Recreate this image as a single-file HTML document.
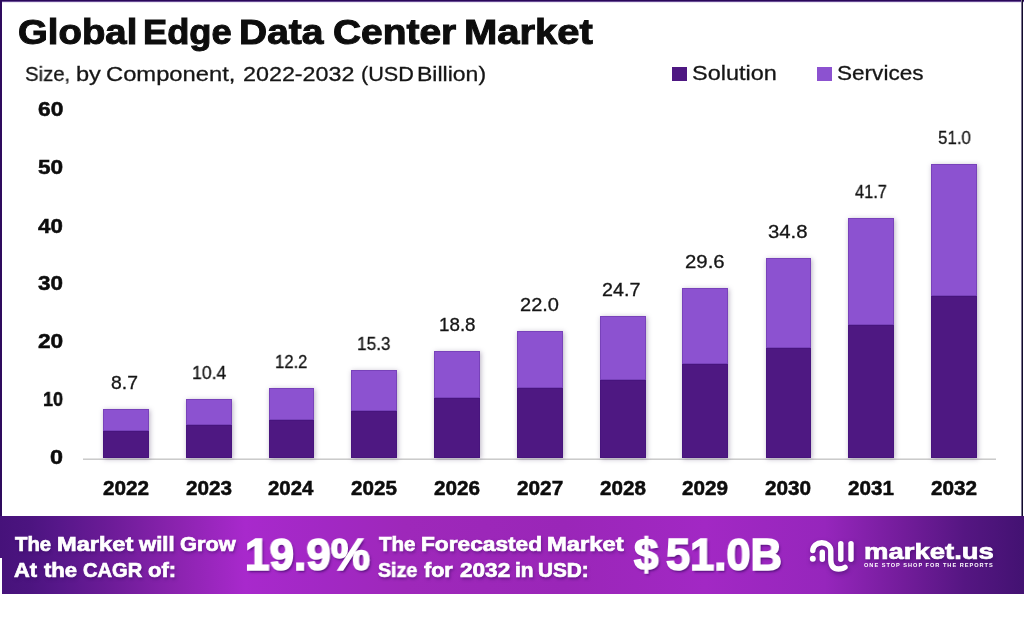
<!DOCTYPE html>
<html><head><meta charset="utf-8"><title>Global Edge Data Center Market</title>
<style>
html,body{margin:0;padding:0;}
body{width:1024px;height:621px;position:relative;overflow:hidden;background:#fff;font-family:"Liberation Sans",sans-serif;}
.t{position:absolute;white-space:nowrap;line-height:1;will-change:transform;}
.b{position:absolute;}
.sol{background:#4e1882;}
.ser{background:#8c52d0;}
.bar{position:absolute;box-shadow:1px 1px 5px rgba(60,40,90,.36);}
.bar .b{box-shadow:inset 0 0 0 1px rgba(50,10,110,.22);}
.w{color:#fff;font-weight:700;text-shadow:1px 2px 3px rgba(50,10,90,.55);}
.hv{-webkit-text-stroke:0.5px #0d0d0d;}
.rg{-webkit-text-stroke:0.3px #161616;}
.hv2{-webkit-text-stroke:1px #0d0d0d;}
.hw{-webkit-text-stroke:0.7px #fff;}
.hw2{-webkit-text-stroke:1.7px #fff;text-shadow:1.5px 2px 2.5px rgba(55,8,95,.75);}
</style></head><body>

<div class="b" style="left:0;top:0;width:1024px;height:1px;background:#2a085a"></div>
<div class="b" style="left:0;top:1px;width:1024px;height:1px;background:#664a93"></div>
<div class="b" style="left:0;top:2px;width:1024px;height:1px;background:#ece7f3"></div>
<div class="b" style="left:0;top:0;width:2px;height:558px;background:#2e0a5e"></div>
<div class="b" style="left:1021px;top:0;width:1px;height:518px;background:#7a7390"></div>
<div class="b" style="left:1022px;top:0;width:1px;height:518px;background:#120a2c"></div>
<div class="t hv2" style="left:17.97px;top:15.00px;font-size:34.3px;font-weight:700;color:#0d0d0d;transform:scaleX(1.1185);transform-origin:0 50%;">Global</div>
<div class="t hv2" style="left:142.65px;top:15.00px;font-size:34.3px;font-weight:700;color:#0d0d0d;transform:scaleX(1.0579);transform-origin:0 50%;">Edge</div>
<div class="t hv2" style="left:238.87px;top:15.00px;font-size:34.3px;font-weight:700;color:#0d0d0d;transform:scaleX(1.1357);transform-origin:0 50%;">Data</div>
<div class="t hv2" style="left:332.94px;top:15.00px;font-size:34.3px;font-weight:700;color:#0d0d0d;transform:scaleX(1.1343);transform-origin:0 50%;">Center</div>
<div class="t hv2" style="left:463.80px;top:15.00px;font-size:34.3px;font-weight:700;color:#0d0d0d;transform:scaleX(1.1653);transform-origin:0 50%;">Market</div>
<div class="t rg" style="left:25.24px;top:63.42px;font-size:21px;font-weight:400;color:#161616;transform:scaleX(0.9672);transform-origin:0 50%;">Size,</div>
<div class="t rg" style="left:75.92px;top:63.42px;font-size:21px;font-weight:400;color:#161616;transform:scaleX(1.1236);transform-origin:0 50%;">by</div>
<div class="t rg" style="left:106.26px;top:63.42px;font-size:21px;font-weight:400;color:#161616;transform:scaleX(1.1312);transform-origin:0 50%;">Component,</div>
<div class="t rg" style="left:242.88px;top:63.42px;font-size:21px;font-weight:400;color:#161616;transform:scaleX(1.1098);transform-origin:0 50%;">2022-2032</div>
<div class="t rg" style="left:360.80px;top:63.42px;font-size:21px;font-weight:400;color:#161616;transform:scaleX(1.0299);transform-origin:0 50%;">(USD</div>
<div class="t rg" style="left:417.35px;top:63.42px;font-size:21px;font-weight:400;color:#161616;transform:scaleX(1.0958);transform-origin:0 50%;">Billion)</div>
<div class="b sol" style="left:672px;top:67px;width:15px;height:14px"></div>
<div class="t rg" style="left:692.09px;top:62.69px;font-size:20.8px;font-weight:400;color:#161616;transform:scaleX(1.1277);transform-origin:0 50%;">Solution</div>
<div class="b ser" style="left:817px;top:67px;width:15px;height:14px"></div>
<div class="t rg" style="left:837.13px;top:62.69px;font-size:20.8px;font-weight:400;color:#161616;transform:scaleX(1.0852);transform-origin:0 50%;">Services</div>
<div class="t hv" style="left:37.90px;top:100.00px;font-size:19.7px;font-weight:700;color:#0d0d0d;transform:scaleX(1.1553);transform-origin:0 50%;">60</div>
<div class="t hv" style="left:38.07px;top:158.00px;font-size:19.7px;font-weight:700;color:#0d0d0d;transform:scaleX(1.1470);transform-origin:0 50%;">50</div>
<div class="t hv" style="left:38.42px;top:217.00px;font-size:19.7px;font-weight:700;color:#0d0d0d;transform:scaleX(1.1307);transform-origin:0 50%;">40</div>
<div class="t hv" style="left:38.25px;top:274.00px;font-size:19.7px;font-weight:700;color:#0d0d0d;transform:scaleX(1.1388);transform-origin:0 50%;">30</div>
<div class="t hv" style="left:37.96px;top:332.00px;font-size:19.7px;font-weight:700;color:#0d0d0d;transform:scaleX(1.1526);transform-origin:0 50%;">20</div>
<div class="t hv" style="left:43.03px;top:390.00px;font-size:19.7px;font-weight:700;color:#0d0d0d;transform:scaleX(0.9119);transform-origin:0 50%;">10</div>
<div class="t hv" style="left:50.22px;top:448.00px;font-size:19.7px;font-weight:700;color:#0d0d0d;transform:scaleX(1.1862);transform-origin:0 50%;">0</div>
<div class="b" style="left:83px;top:458px;width:913px;height:1px;background:#e2e2e2"></div>
<div class="b" style="left:83px;top:459px;width:913px;height:1px;background:#cbcbcb"></div>
<div class="bar" style="left:103.0px;top:408.7px;width:46.0px;height:49.3px"><div class="b ser" style="left:0;top:0;width:100%;height:22.7px"></div><div class="b sol" style="left:0;top:22.7px;width:100%;height:26.6px"></div></div>
<div class="t rg" style="left:111.23px;top:373.79px;font-size:18.8px;font-weight:400;color:#161616;transform:scaleX(1.0310);transform-origin:0 50%;">8.7</div>
<div class="t hv" style="left:103.02px;top:478.72px;font-size:19.7px;font-weight:700;color:#0d0d0d;transform:scaleX(1.0531);transform-origin:0 50%;">2022</div>
<div class="bar" style="left:185.6px;top:398.9px;width:46.0px;height:59.1px"><div class="b ser" style="left:0;top:0;width:100%;height:26.3px"></div><div class="b sol" style="left:0;top:26.3px;width:100%;height:32.8px"></div></div>
<div class="t rg" style="left:191.83px;top:363.99px;font-size:18.8px;font-weight:400;color:#161616;transform:scaleX(0.9395);transform-origin:0 50%;">10.4</div>
<div class="t hv" style="left:185.63px;top:478.72px;font-size:19.7px;font-weight:700;color:#0d0d0d;transform:scaleX(1.0506);transform-origin:0 50%;">2023</div>
<div class="bar" style="left:268.5px;top:388.4px;width:45.5px;height:69.6px"><div class="b ser" style="left:0;top:0;width:100%;height:31.2px"></div><div class="b sol" style="left:0;top:31.2px;width:100%;height:38.4px"></div></div>
<div class="t rg" style="left:275.30px;top:353.49px;font-size:18.8px;font-weight:400;color:#161616;transform:scaleX(0.8868);transform-origin:0 50%;">12.2</div>
<div class="t hv" style="left:268.29px;top:478.72px;font-size:19.7px;font-weight:700;color:#0d0d0d;transform:scaleX(1.0362);transform-origin:0 50%;">2024</div>
<div class="bar" style="left:351.0px;top:370.1px;width:46.4px;height:87.9px"><div class="b ser" style="left:0;top:0;width:100%;height:40.5px"></div><div class="b sol" style="left:0;top:40.5px;width:100%;height:47.4px"></div></div>
<div class="t rg" style="left:357.06px;top:335.19px;font-size:18.8px;font-weight:400;color:#161616;transform:scaleX(0.9181);transform-origin:0 50%;">15.3</div>
<div class="t hv" style="left:351.23px;top:478.72px;font-size:19.7px;font-weight:700;color:#0d0d0d;transform:scaleX(1.0470);transform-origin:0 50%;">2025</div>
<div class="bar" style="left:433.6px;top:350.6px;width:46.4px;height:107.4px"><div class="b ser" style="left:0;top:0;width:100%;height:47.9px"></div><div class="b sol" style="left:0;top:47.9px;width:100%;height:59.5px"></div></div>
<div class="t rg" style="left:438.56px;top:315.69px;font-size:18.8px;font-weight:400;color:#161616;transform:scaleX(0.9881);transform-origin:0 50%;">18.8</div>
<div class="t hv" style="left:433.83px;top:478.72px;font-size:19.7px;font-weight:700;color:#0d0d0d;transform:scaleX(1.0506);transform-origin:0 50%;">2026</div>
<div class="bar" style="left:517.0px;top:331.2px;width:45.6px;height:126.8px"><div class="b ser" style="left:0;top:0;width:100%;height:57.2px"></div><div class="b sol" style="left:0;top:57.2px;width:100%;height:69.6px"></div></div>
<div class="t rg" style="left:520.05px;top:296.29px;font-size:18.8px;font-weight:400;color:#161616;transform:scaleX(1.0667);transform-origin:0 50%;">22.0</div>
<div class="t hv" style="left:516.82px;top:478.72px;font-size:19.7px;font-weight:700;color:#0d0d0d;transform:scaleX(1.0543);transform-origin:0 50%;">2027</div>
<div class="bar" style="left:600.0px;top:316.2px;width:45.7px;height:141.8px"><div class="b ser" style="left:0;top:0;width:100%;height:63.7px"></div><div class="b sol" style="left:0;top:63.7px;width:100%;height:78.1px"></div></div>
<div class="t rg" style="left:602.36px;top:281.29px;font-size:18.8px;font-weight:400;color:#161616;transform:scaleX(1.0508);transform-origin:0 50%;">24.7</div>
<div class="t hv" style="left:599.88px;top:478.72px;font-size:19.7px;font-weight:700;color:#0d0d0d;transform:scaleX(1.0482);transform-origin:0 50%;">2028</div>
<div class="bar" style="left:682.4px;top:287.6px;width:45.6px;height:170.4px"><div class="b ser" style="left:0;top:0;width:100%;height:76.5px"></div><div class="b sol" style="left:0;top:76.5px;width:100%;height:93.9px"></div></div>
<div class="t rg" style="left:685.13px;top:252.69px;font-size:18.8px;font-weight:400;color:#161616;transform:scaleX(1.0840);transform-origin:0 50%;">29.6</div>
<div class="t hv" style="left:682.23px;top:478.72px;font-size:19.7px;font-weight:700;color:#0d0d0d;transform:scaleX(1.0506);transform-origin:0 50%;">2029</div>
<div class="bar" style="left:765.5px;top:257.8px;width:45.3px;height:200.2px"><div class="b ser" style="left:0;top:0;width:100%;height:90.1px"></div><div class="b sol" style="left:0;top:90.1px;width:100%;height:110.1px"></div></div>
<div class="t rg" style="left:767.99px;top:222.89px;font-size:18.8px;font-weight:400;color:#161616;transform:scaleX(1.0824);transform-origin:0 50%;">34.8</div>
<div class="t hv" style="left:765.17px;top:478.72px;font-size:19.7px;font-weight:700;color:#0d0d0d;transform:scaleX(1.0531);transform-origin:0 50%;">2030</div>
<div class="bar" style="left:847.6px;top:217.8px;width:46.4px;height:240.2px"><div class="b ser" style="left:0;top:0;width:100%;height:107.3px"></div><div class="b sol" style="left:0;top:107.3px;width:100%;height:132.9px"></div></div>
<div class="t rg" style="left:854.58px;top:182.89px;font-size:18.8px;font-weight:400;color:#161616;transform:scaleX(0.8733);transform-origin:0 50%;">41.7</div>
<div class="t hv" style="left:847.83px;top:478.72px;font-size:19.7px;font-weight:700;color:#0d0d0d;transform:scaleX(1.0470);transform-origin:0 50%;">2031</div>
<div class="bar" style="left:931.2px;top:163.5px;width:45.6px;height:294.5px"><div class="b ser" style="left:0;top:0;width:100%;height:132.6px"></div><div class="b sol" style="left:0;top:132.6px;width:100%;height:161.9px"></div></div>
<div class="t rg" style="left:937.57px;top:128.59px;font-size:18.8px;font-weight:400;color:#161616;transform:scaleX(0.9013);transform-origin:0 50%;">51.0</div>
<div class="t hv" style="left:931.02px;top:478.72px;font-size:19.7px;font-weight:700;color:#0d0d0d;transform:scaleX(1.0531);transform-origin:0 50%;">2032</div>
<div class="b" style="left:0;top:516px;width:1024px;height:78px;background:linear-gradient(90deg,#46127a 0px,#4c1480 30px,#57178a 60px,#6a1b96 105px,#8a23ae 175px,#a829cc 245px,#a228c4 325px,#9e28ba 405px,#9a26b8 565px,#a228c4 705px,#9626bc 825px,#721c9a 905px,#551682 965px,#431272 1024px)"></div>
<div class="b" style="left:0;top:558px;width:2px;height:36px;background:#fff"></div>
<div class="t w hw" style="left:14.95px;top:534.00px;font-size:20px;font-weight:700;color:#fff;transform:scaleX(1.0159);transform-origin:0 50%;">The</div>
<div class="t w hw" style="left:57.15px;top:534.00px;font-size:20px;font-weight:700;color:#fff;transform:scaleX(1.1831);transform-origin:0 50%;">Market</div>
<div class="t w hw" style="left:139.41px;top:534.00px;font-size:20px;font-weight:700;color:#fff;transform:scaleX(1.1021);transform-origin:0 50%;">will</div>
<div class="t w hw" style="left:179.78px;top:534.00px;font-size:20px;font-weight:700;color:#fff;transform:scaleX(1.0884);transform-origin:0 50%;">Grow</div>
<div class="t w hw" style="left:14.20px;top:560.00px;font-size:20px;font-weight:700;color:#fff;transform:scaleX(1.0909);transform-origin:0 50%;">At</div>
<div class="t w hw" style="left:43.77px;top:560.00px;font-size:20px;font-weight:700;color:#fff;transform:scaleX(1.1050);transform-origin:0 50%;">the</div>
<div class="t w hw" style="left:83.05px;top:560.00px;font-size:20px;font-weight:700;color:#fff;transform:scaleX(1.0043);transform-origin:0 50%;">CAGR</div>
<div class="t w hw" style="left:147.87px;top:560.00px;font-size:20px;font-weight:700;color:#fff;transform:scaleX(1.1009);transform-origin:0 50%;">of:</div>
<div class="t w hw2" style="left:244.59px;top:532.00px;font-size:45px;font-weight:700;color:#fff;transform:scaleX(0.9805);transform-origin:0 50%;">19.9%</div>
<div class="t w hw" style="left:379.04px;top:534.00px;font-size:20px;font-weight:700;color:#fff;transform:scaleX(1.0274);transform-origin:0 50%;">The</div>
<div class="t w hw" style="left:420.82px;top:534.00px;font-size:20px;font-weight:700;color:#fff;transform:scaleX(1.1347);transform-origin:0 50%;">Forecasted</div>
<div class="t w hw" style="left:546.54px;top:534.00px;font-size:20px;font-weight:700;color:#fff;transform:scaleX(1.1895);transform-origin:0 50%;">Market</div>
<div class="t w hw" style="left:378.16px;top:560.00px;font-size:20px;font-weight:700;color:#fff;transform:scaleX(0.9781);transform-origin:0 50%;">Size</div>
<div class="t w hw" style="left:423.77px;top:560.00px;font-size:20px;font-weight:700;color:#fff;transform:scaleX(1.0769);transform-origin:0 50%;">for</div>
<div class="t w hw" style="left:459.66px;top:560.00px;font-size:20px;font-weight:700;color:#fff;transform:scaleX(1.1282);transform-origin:0 50%;">2032</div>
<div class="t w hw" style="left:514.89px;top:560.00px;font-size:20px;font-weight:700;color:#fff;transform:scaleX(1.0429);transform-origin:0 50%;">in</div>
<div class="t w hw" style="left:538.01px;top:560.00px;font-size:20px;font-weight:700;color:#fff;transform:scaleX(1.0371);transform-origin:0 50%;">USD:</div>
<div class="t w hw2" style="left:634.30px;top:532.00px;font-size:45px;font-weight:700;color:#fff;transform:scaleX(0.9769);transform-origin:0 50%;">$</div>
<div class="t w hw2" style="left:665.55px;top:532.00px;font-size:45px;font-weight:700;color:#fff;transform:scaleX(0.9661);transform-origin:0 50%;">51.0B</div>
<svg class="b" style="left:800px;top:530px;filter:drop-shadow(1px 2px 2px rgba(50,10,90,.5))" width="70" height="50" viewBox="800 530 70 50">
<g fill="none" stroke="#fff" stroke-width="5.4" stroke-linecap="round" stroke-linejoin="round">
<path d="M812.8 550.6 A9 7.9 0 0 1 830.8 550.6 L830.8 560 Q831 569 838.6 569 Q843 569 845 567.3"/>
<path d="M822.3 552.3 L822.3 559.3"/>
<path d="M840.8 543.6 L840.8 559.3"/>
<path d="M851 543.6 L851 559.3"/>
</g><circle cx="812.8" cy="558.7" r="3" fill="#fff"/></svg>
<div class="t w hw" style="left:863.76px;top:540.75px;font-size:22.5px;font-weight:700;color:#fff;transform:scaleX(1.2221);transform-origin:0 50%;">market.us</div>
<div class="t " style="left:864.38px;top:562.76px;font-size:5.6px;font-weight:700;color:#fff;transform:scaleX(0.9994);transform-origin:0 50%;letter-spacing:1.0px;">ONE STOP SHOP FOR THE REPORTS</div>
</body></html>
